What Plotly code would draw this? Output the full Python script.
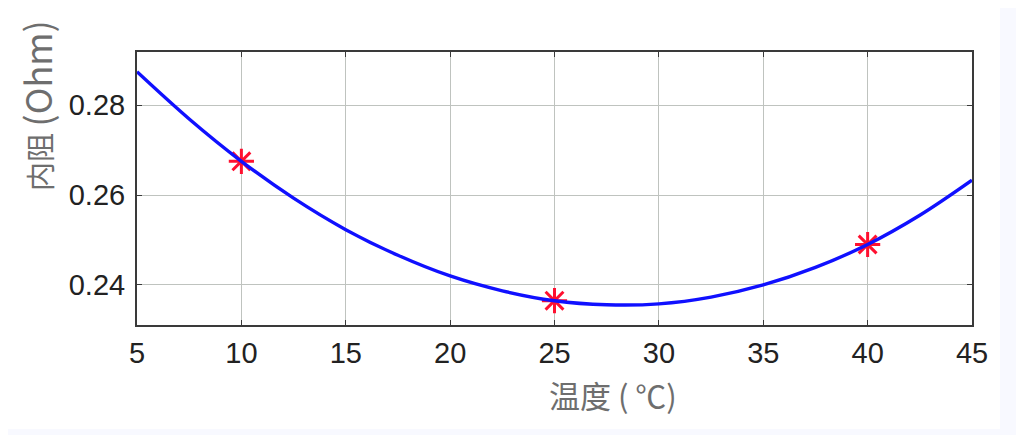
import plotly.graph_objects as go

# measured points (red stars)
temp_meas = [10, 25, 40]
res_meas = [0.2675, 0.2365, 0.2490]

# fitted curve
temp_fit = [5, 7.5, 10, 12.5, 15, 17.5, 20, 22.5, 25, 27.5, 30, 32.5, 35, 37.5, 40, 42.5, 45]
res_fit = [0.2874, 0.2769, 0.2675, 0.2593, 0.2523, 0.2466, 0.2420, 0.2387, 0.2365,
           0.2356, 0.2358, 0.2373, 0.2400, 0.2439, 0.2490, 0.2555, 0.2633]

x_ticks = [5, 10, 15, 20, 25, 30, 35, 40, 45]
y_ticks = [0.24, 0.26, 0.28]

# page is offset by the 8px body margin
OFF = 8
W, H = 1024 - OFF, 435 - OFF
PL, PR, PT, PB = 137, 972, 52, 325   # plot box in page pixels


def px_x(p):
    return (p - PL) / (PR - PL)


def px_y(p):
    return (PB - p) / (PB - PT)


fig = go.Figure()

fig.add_trace(go.Scatter(
    x=temp_meas, y=res_meas, mode="markers",
    marker=dict(symbol="asterisk-open", size=21, color="#ff1030",
                line=dict(color="#ff1030", width=3)),
    showlegend=False,
))

fig.add_trace(go.Scatter(
    x=temp_fit, y=res_fit, mode="lines",
    line=dict(color="#1010ff", width=3.4, shape="spline"),
    showlegend=False,
))

axis_common = dict(
    showline=True, linecolor="#3a3a3a", linewidth=2, mirror="ticks",
    ticks="inside", ticklen=5, tickcolor="#3a3a3a", tickwidth=1,
    showgrid=True, gridcolor="#bfc3bf", gridwidth=1, zeroline=False,
    tickfont=dict(family="Liberation Sans, Arial", size=29, color="#222222"),
)

fig.update_layout(
    width=W, height=H,
    paper_bgcolor="white", plot_bgcolor="white",
    margin=dict(l=PL - OFF, r=1024 - PR, t=PT - OFF, b=435 - PB),
    xaxis=dict(range=[5, 45], tickvals=x_ticks, ticklabelstandoff=1, **axis_common),
    yaxis=dict(range=[0.2311, 0.2918], tickvals=y_ticks, tickformat=".2f",
               ticklabelstandoff=4, **axis_common),
    annotations=[
        dict(text="温度 ( ℃)", x=px_x(613), y=px_y(394), xref="paper", yref="paper",
             xanchor="center", yanchor="middle", showarrow=False,
             font=dict(family="Noto Sans CJK SC", size=31, color="#6e6e6e")),
        dict(text="内阻 <span style='font-size:36px'>(Ohm)</span>", x=px_x(36), y=px_y(106),
             xref="paper", yref="paper",
             xanchor="center", yanchor="middle", showarrow=False, textangle=-90,
             font=dict(family="Noto Sans CJK SC", size=29, color="#6e6e6e")),
    ],
    shapes=[
        dict(type="rect", xref="paper", yref="paper", x0=px_x(1000), x1=px_x(1030),
             y0=px_y(-5), y1=px_y(440), fillcolor="#f8f9ff", line=dict(width=0), layer="below"),
        dict(type="rect", xref="paper", yref="paper", x0=px_x(-5), x1=px_x(1030),
             y0=px_y(429), y1=px_y(440), fillcolor="#f8f9ff", line=dict(width=0), layer="below"),
    ],
)

fig.write_html("out.html")
